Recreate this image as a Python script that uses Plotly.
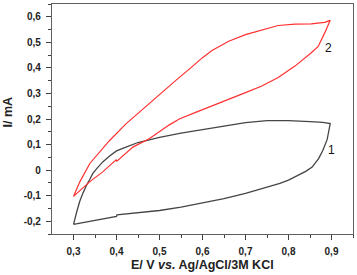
import plotly.graph_objects as go

# Curve 1 (black): forward (lower) branch then reverse (upper) branch
e1 = [0.3, 0.35, 0.4, 0.401, 0.45, 0.5, 0.55, 0.6, 0.65, 0.7, 0.73, 0.76, 0.78, 0.8,
      0.82, 0.84, 0.855, 0.87, 0.88, 0.89, 0.897,
      0.88, 0.85, 0.8, 0.75, 0.7, 0.65, 0.6, 0.55, 0.5, 0.469, 0.45, 0.422, 0.4,
      0.384, 0.368, 0.355, 0.345, 0.338, 0.33, 0.322, 0.315, 0.308, 0.3]
i1 = [-0.212, -0.197, -0.181, -0.175, -0.167, -0.158, -0.145, -0.130, -0.112, -0.091,
      -0.077, -0.063, -0.052, -0.039, -0.023, -0.005, 0.012, 0.045, 0.078, 0.12, 0.182,
      0.187, 0.19, 0.194, 0.194, 0.186, 0.172, 0.158, 0.145, 0.128, 0.116, 0.108, 0.09,
      0.075, 0.055, 0.032, 0.008, -0.013, -0.036, -0.06, -0.09, -0.12, -0.16, -0.212]

# Curve 2 (red)
e2 = [0.3, 0.315, 0.338, 0.361, 0.384, 0.422, 0.461, 0.5, 0.538, 0.576, 0.6, 0.622,
      0.661, 0.7, 0.738, 0.776, 0.815, 0.853, 0.884, 0.897,
      0.884, 0.869, 0.853, 0.815, 0.776, 0.738, 0.7, 0.661, 0.622, 0.584, 0.546,
      0.522, 0.476, 0.438, 0.401, 0.399, 0.368, 0.338, 0.3]
i2 = [-0.103, -0.045, 0.026, 0.071, 0.116, 0.181, 0.239, 0.297, 0.351, 0.405, 0.44,
      0.468, 0.504, 0.53, 0.549, 0.566, 0.571, 0.572, 0.578, 0.586,
      0.536, 0.484, 0.459, 0.407, 0.362, 0.329, 0.303, 0.278, 0.252, 0.226, 0.2,
      0.176, 0.123, 0.09, 0.035, 0.04, -0.007, -0.045, -0.103]

x_ticks = [0.3, 0.4, 0.5, 0.6, 0.7, 0.8, 0.9]
x_ticklabels = ["0,3", "0,4", "0,5", "0,6", "0,7", "0,8", "0,9"]
x_minor = [0.35, 0.45, 0.55, 0.65, 0.75, 0.85, 0.95]
y_ticks = [-0.2, -0.1, 0.0, 0.1, 0.2, 0.3, 0.4, 0.5, 0.6]
y_ticklabels = ["-0,2", "-0,1", "0", "0,1", "0,2", "0,3", "0,4", "0,5", "0,6"]
y_minor = [-0.25, -0.15, -0.05, 0.05, 0.15, 0.25, 0.35, 0.45, 0.55, 0.65]

FONT = "Liberation Sans, Arial, sans-serif"

fig = go.Figure()
fig.add_trace(go.Scatter(x=e1, y=i1, mode="lines",
                         line=dict(color="#454545", width=1.3), showlegend=False))
fig.add_trace(go.Scatter(x=e2, y=i2, mode="lines",
                         line=dict(color="#ff3030", width=1.2), showlegend=False))

axis_common = dict(showgrid=False, zeroline=False, showline=True, mirror=True,
                   linecolor="#606060", linewidth=1.2, ticks="outside", ticklen=5,
                   tickwidth=1, tickcolor="#404040", ticklabelstandoff=3,
                   tickfont=dict(family=FONT, size=10, color="#222222", weight="bold"))

fig.update_xaxes(range=[0.25, 0.95], tickvals=x_ticks, ticktext=x_ticklabels,
                 minor=dict(tickvals=x_minor, ticks="outside", ticklen=3,
                            tickcolor="#404040"),
                 **axis_common)
fig.update_yaxes(range=[-0.25, 0.65], tickvals=y_ticks, ticktext=y_ticklabels,
                 minor=dict(tickvals=y_minor, ticks="outside", ticklen=3,
                            tickcolor="#404040"),
                 **axis_common)

fig.add_annotation(x=0.892, y=0.477, xref="x", yref="y", text="2", showarrow=False,
                   xanchor="center", yanchor="middle",
                   font=dict(family=FONT, size=12, color="#111111"))
fig.add_annotation(x=0.899, y=0.077, xref="x", yref="y", text="1", showarrow=False,
                   xanchor="center", yanchor="middle",
                   font=dict(family=FONT, size=12, color="#111111"))

fig.add_annotation(x=0.5, y=-0.135, xref="paper", yref="paper",
                   xanchor="center", yanchor="middle",
                   text="<b>E/ V <i>vs.</i> Ag/AgCl/3M KCl</b>", showarrow=False,
                   font=dict(family=FONT, size=12.5, color="#222222"))
fig.add_annotation(x=-0.145, y=0.53, xref="paper", yref="paper",
                   xanchor="center", yanchor="middle",
                   text="<b>I/ mA</b>", showarrow=False, textangle=-90,
                   font=dict(family=FONT, size=12.5, color="#222222"))

fig.update_layout(width=357, height=275,
                  margin=dict(l=52, r=4, t=4, b=41, autoexpand=False),
                  plot_bgcolor="white", paper_bgcolor="white",
                  font=dict(family=FONT))

fig.write_html("out.html", config={"displayModeBar": False},
               post_script="document.body.style.margin='0';"
                           "document.body.style.overflow='hidden';")
